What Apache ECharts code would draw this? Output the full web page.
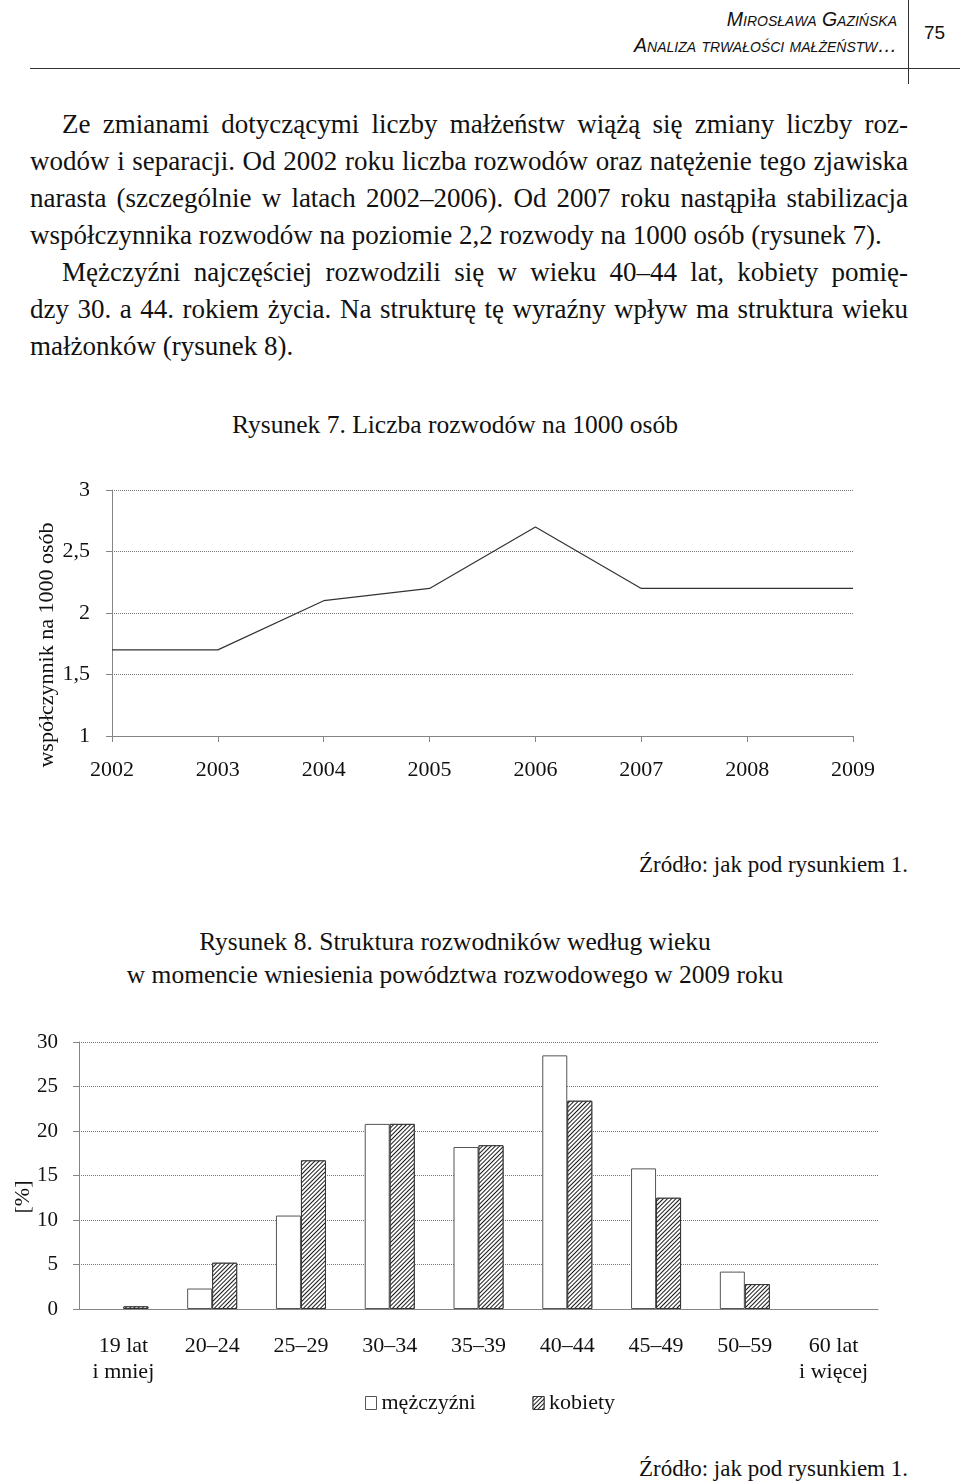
<!DOCTYPE html>
<html lang="pl">
<head>
<meta charset="utf-8">
<title>Rysunek 7 i 8</title>
<script src="https://cdn.jsdelivr.net/npm/echarts@6/dist/echarts.min.js"></script>
<style>
  html, body { margin: 0; padding: 0; background: #fff; }
  .page { position: relative; width: 960px; height: 1484px; overflow: hidden;
          font-family: "Liberation Serif", "Times New Roman", serif; color: #111; }
  .head { position: absolute; right: 63px; font-family: "Liberation Sans", Arial, sans-serif;
          font-style: italic; font-variant: small-caps; font-size: 19.5px; white-space: nowrap; }
  .pnum { position: absolute; left: 924px; top: 22px; font-family: "Liberation Sans", Arial, sans-serif; font-size: 19px; }
  .rule-h { position: absolute; left: 30px; right: 0; top: 68px; border-top: 1px solid #333; }
  .rule-v { position: absolute; left: 908px; top: 0; height: 84px; border-left: 1px solid #333; }
  .ln { position: absolute; left: 30px; width: 878px; font-size: 27px; line-height: 37px; white-space: nowrap; }
  .just { text-align: justify; text-align-last: justify; white-space: normal; }
  .ind { left: 62px; width: 846px; }
  .cap { position: absolute; left: 0; width: 910px; text-align: center; font-size: 25.5px; line-height: 33px; }
  .src { position: absolute; right: 52px; font-size: 23px; }
  .chart { position: absolute; left: 0; width: 960px; }
</style>
</head>
<body>
<div class="page">
  <div class="head" style="top:8px">Mirosława Gazińska</div>
  <div class="head" style="top:34px">Analiza trwałości małżeństw…</div>
  <div class="pnum">75</div>
  <div class="rule-h"></div>
  <div class="rule-v"></div>

  <div class="ln just ind" style="top:106px">Ze zmianami dotyczącymi liczby małżeństw wiążą się zmiany liczby roz-</div>
  <div class="ln just" style="top:143px">wodów i separacji. Od 2002 roku liczba rozwodów oraz natężenie tego zjawiska</div>
  <div class="ln just" style="top:180px">narasta (szczególnie w latach 2002–2006). Od 2007 roku nastąpiła stabilizacja</div>
  <div class="ln" style="top:217px">współczynnika rozwodów na poziomie 2,2 rozwody na 1000 osób (rysunek 7).</div>
  <div class="ln just ind" style="top:254px">Mężczyźni najczęściej rozwodzili się w wieku 40–44 lat, kobiety pomię-</div>
  <div class="ln just" style="top:291px">dzy 30. a 44. rokiem życia. Na strukturę tę wyraźny wpływ ma struktura wieku</div>
  <div class="ln" style="top:328px">małżonków (rysunek 8).</div>

  <div class="cap" style="top:408px">Rysunek 7. Liczba rozwodów na 1000 osób</div>
  <div id="chartLine" class="chart" style="top:460px;height:340px"></div>
  <div class="src" style="top:852px">Źródło: jak pod rysunkiem 1.</div>

  <div class="cap" style="top:925px">Rysunek 8. Struktura rozwodników według wieku</div>
  <div class="cap" style="top:958px">w momencie wniesienia powództwa rozwodowego w 2009 roku</div>
  <div id="chartBar" class="chart" style="top:1000px;height:440px"></div>
  <div class="src" style="top:1456px">Źródło: jak pod rysunkiem 1.</div>
</div>

<script>
// rysunek 7
var years = ["2002", "2003", "2004", "2005", "2006", "2007", "2008", "2009"];
var divorceRate = [1.7, 1.7, 2.1, 2.2, 2.7, 2.2, 2.2, 2.2];

// rysunek 8 (brak słupka = brak widocznej wartości)
var ageGroups = ["19 lat\ni mniej", "20–24", "25–29", "30–34", "35–39", "40–44", "45–49", "50–59", "60 lat\ni więcej"];
var men = [null, 2.3, 10.5, 20.8, 18.2, 28.5, 15.8, 4.2, null];
var women = [0.3, 5.2, 16.7, 20.8, 18.4, 23.4, 12.5, 2.8, null];

var serif = "Liberation Serif";
var axisGray = "#858585";

var lineChart = echarts.init(document.getElementById("chartLine"));
lineChart.setOption({
  animation: false,
  grid: { left: 112, right: 107, top: 30, bottom: 64 },
  xAxis: {
    type: "category",
    data: years,
    boundaryGap: false,
    axisLine: { lineStyle: { color: axisGray } },
    axisTick: { length: 6, lineStyle: { color: axisGray } },
    axisLabel: { interval: 0, margin: 23, color: "#111", fontFamily: serif, fontSize: 22 }
  },
  yAxis: {
    type: "value",
    min: 1,
    max: 3,
    interval: 0.5,
    axisLine: { show: true, lineStyle: { color: axisGray } },
    axisTick: { show: true, length: 6, lineStyle: { color: axisGray } },
    splitLine: { lineStyle: { color: "#777", type: [1, 1] } },
    axisLabel: {
      margin: 22, color: "#111", fontFamily: serif, fontSize: 22,
      formatter: function (v) { return String(v).replace(".", ","); }
    }
  },
  graphic: [{
    type: "text",
    x: 47, y: 185,
    rotation: Math.PI / 2,
    style: { text: "współczynnik na 1000 osób", fontFamily: serif, fontSize: 22, fill: "#111",
             align: "center", verticalAlign: "middle" }
  }],
  series: [{
    type: "line",
    data: divorceRate,
    showSymbol: false,
    lineStyle: { color: "#333", width: 1.2 }
  }]
});

var hatch = {
  symbol: "rect",
  symbolSize: 1,
  dashArrayX: [1, 0],
  dashArrayY: [1, 1.6],
  rotation: -Math.PI / 4,
  color: "#1a1a1a",
  backgroundColor: "#fff"
};

var barChart = echarts.init(document.getElementById("chartBar"));
barChart.setOption({
  animation: false,
  grid: { left: 79, right: 82, top: 42, bottom: 131 },
  legend: {
    left: 365, top: 392, padding: 0,
    icon: "rect",
    itemWidth: 11, itemHeight: 13, itemGap: 57,
    textStyle: { fontFamily: serif, fontSize: 22, color: "#111" },
    data: [
      { name: "mężczyźni", itemStyle: { color: "#fff", borderColor: "#555", borderWidth: 1 } },
      { name: "kobiety", itemStyle: { color: "#fff", borderColor: "#333", borderWidth: 1, decal: hatch } }
    ]
  },
  xAxis: {
    type: "category",
    data: ageGroups,
    axisLine: { lineStyle: { color: axisGray } },
    axisTick: { length: 6, lineStyle: { color: axisGray } },
    axisLabel: { interval: 0, margin: 24, lineHeight: 26, color: "#111", fontFamily: serif, fontSize: 22 }
  },
  yAxis: {
    type: "value",
    min: 0,
    max: 30,
    interval: 5,
    axisLine: { show: true, lineStyle: { color: axisGray } },
    axisTick: { show: true, length: 6, lineStyle: { color: axisGray } },
    splitLine: { lineStyle: { color: "#777", type: [1, 1] } },
    axisLabel: { margin: 21, color: "#111", fontFamily: serif, fontSize: 21 }
  },
  graphic: [{
    type: "text",
    x: 23, y: 197,
    rotation: Math.PI / 2,
    style: { text: "[%]", fontFamily: serif, fontSize: 22, fill: "#111",
             align: "center", verticalAlign: "middle" }
  }],
  series: [
    {
      name: "mężczyźni",
      type: "bar",
      data: men,
      barWidth: 25,
      barGap: "0%",
      itemStyle: { color: "#fff", borderColor: "#555", borderWidth: 1 }
    },
    {
      name: "kobiety",
      type: "bar",
      data: women,
      barWidth: 25,
      itemStyle: { color: "#fff", borderColor: "#333", borderWidth: 1, decal: hatch }
    }
  ]
});
</script>
</body>
</html>
